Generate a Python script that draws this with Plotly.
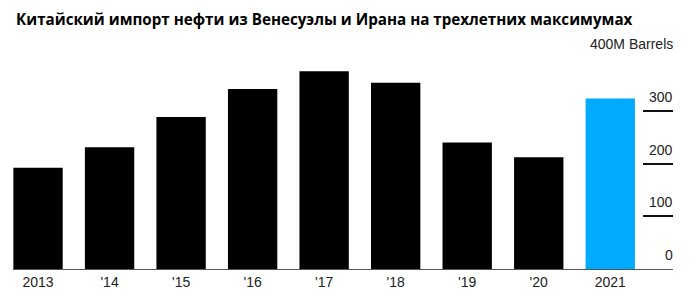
import plotly.graph_objects as go

categories = ["2013", "'14", "'15", "'16", "'17", "'18", "'19", "'20", "2021"]
imports = [192, 231, 288, 341, 375, 353, 240, 212, 323]
bar_colors = ["#000000"] * 8 + ["#00AAFF"]
ytick_vals = [0, 100, 200, 300, 400]
ytick_text = ["0", "100", "200", "300", "400M Barrels"]
title_text = "Китайский импорт нефти из Венесуэлы и Ирана на трехлетних максимумах"

fig = go.Figure(
    go.Bar(
        x=categories,
        y=imports,
        marker=dict(color=bar_colors, line=dict(width=0)),
        width=0.69,
        hoverinfo="x+y",
    )
)

fig.update_layout(
    width=700,
    height=305,
    margin=dict(l=13, r=27, t=58.3, b=35.5),
    paper_bgcolor="white",
    plot_bgcolor="white",
    showlegend=False,
    title=dict(
        text="<b>" + title_text + "</b>",
        x=0, xref="paper", xanchor="left",
        y=1, yref="container", yanchor="top",
        pad=dict(t=14, l=3),
        font=dict(family="Open Sans", size=15.2, color="#000000"),
    ),
    font=dict(family="Liberation Sans", size=14, color="#222222"),
)

fig.update_xaxes(
    type="category",
    range=[-0.35, 8.877],
    showline=True,
    linecolor="#555555",
    linewidth=1,
    ticks="",
    showgrid=False,
    tickfont=dict(family="Liberation Sans", size=14, color="#222222"),
    fixedrange=True,
)

fig.update_yaxes(
    range=[0, 400],
    side="right",
    tickvals=ytick_vals,
    showticklabels=False,
    ticks="inside",
    ticklen=30,
    tickwidth=1.5,
    tickcolor="#111111",
    showgrid=False,
    zeroline=False,
    showline=False,
    fixedrange=True,
)

for v, t in zip(ytick_vals, ytick_text):
    fig.add_annotation(
        x=1, xref="paper", xanchor="right",
        y=v, yref="y", yanchor="bottom",
        xshift=2, yshift=4,
        text=t,
        showarrow=False,
        font=dict(family="Liberation Sans", size=14, color="#222222"),
    )

fig.write_html("out.html")
